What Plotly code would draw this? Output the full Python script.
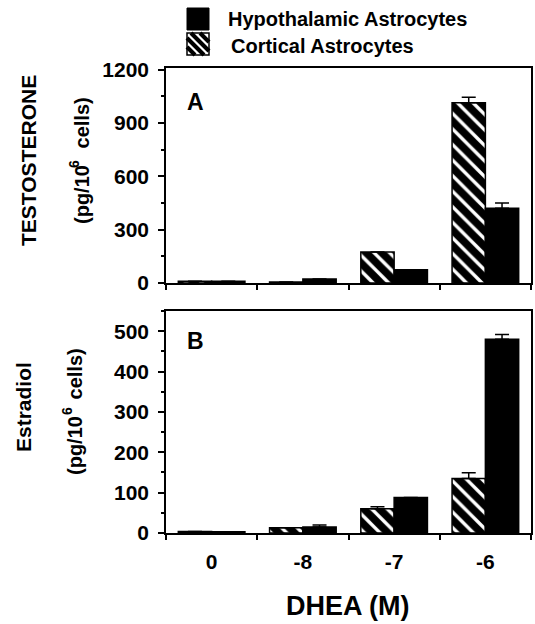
import plotly.graph_objects as go

# ---------------- data ----------------
categories = ["0", "-8", "-7", "-6"]

testo_cortical = [10, 6, 175, 1015]
testo_cortical_err = [0, 0, 0, 30]
testo_hypo = [10, 22, 75, 420]
testo_hypo_err = [0, 0, 0, 30]

estra_cortical = [4, 13, 60, 135]
estra_cortical_err = [0, 0, 5, 14]
estra_hypo = [3, 15, 88, 480]
estra_hypo_err = [0, 5, 0, 12]

testo_ticks = [0, 300, 600, 900, 1200]
estra_ticks = [0, 100, 200, 300, 400, 500]

# ---------------- layout helpers ----------------
W, H = 535, 624
L, R = 166, 531
T, B = 68, 533
PW, PH = R - L, B - T
A_BOTTOM = 283
B_TOP = 311


def px(x):
    return (x - L) / PW


def py(y):
    return (B - y) / PH


FONT = "Liberation Sans, Arial, sans-serif"
black = "black"

fig = go.Figure()


def add_pair(cort, cort_err, hypo, hypo_err, xa, ya):
    fig.add_trace(go.Bar(
        x=categories, y=cort, name="Cortical Astrocytes", xaxis=xa, yaxis=ya,
        marker=dict(color="white", line=dict(color=black, width=1.5),
                    pattern=dict(shape="\\", fgcolor=black, bgcolor="white",
                                 fgopacity=1, size=11, solidity=0.7)),
        error_y=dict(type="data", symmetric=False, array=cort_err,
                     arrayminus=[0] * len(cort_err), color=black,
                     thickness=1.5, width=7),
        showlegend=False,
    ))
    fig.add_trace(go.Bar(
        x=categories, y=hypo, name="Hypothalamic Astrocytes", xaxis=xa, yaxis=ya,
        marker=dict(color=black, line=dict(color=black, width=1.5)),
        error_y=dict(type="data", symmetric=False, array=hypo_err,
                     arrayminus=[0] * len(hypo_err), color=black,
                     thickness=1.5, width=7),
        showlegend=False,
    ))


add_pair(testo_cortical, testo_cortical_err, testo_hypo, testo_hypo_err, "x", "y")
add_pair(estra_cortical, estra_cortical_err, estra_hypo, estra_hypo_err, "x2", "y2")

tickfont = dict(family=FONT, size=21, color=black, weight="bold")

xcommon = dict(type="category", categoryorder="array", categoryarray=categories,
               tickson="boundaries", ticks="outside", ticklen=5, tickwidth=1.5,
               tickcolor=black, showline=True, linecolor=black, linewidth=1.5,
               mirror=True, showgrid=False, zeroline=False, tickfont=tickfont,
               automargin=False)
ycommon = dict(ticks="outside", ticklen=6, tickwidth=1.5, tickcolor=black,
               showline=True, linecolor=black, linewidth=1.5, mirror=True,
               showgrid=False, zeroline=False, tickfont=tickfont, automargin=False,
               ticklabelstandoff=5)

fig.update_layout(
    width=W, height=H,
    margin=dict(l=L, r=W - R, t=T, b=H - B),
    paper_bgcolor="white", plot_bgcolor="white",
    barmode="group", bargap=0.27, bargroupgap=0,
    font=dict(family=FONT, color=black),
    xaxis=dict(**xcommon, domain=[0, 1], anchor="y", showticklabels=False),
    yaxis=dict(**ycommon, domain=[py(A_BOTTOM), 1], anchor="x",
               range=[0, 1210], tickvals=testo_ticks,
               minor=dict(dtick=150, ticks="outside", ticklen=3, tickwidth=1.5, tickcolor=black)),
    xaxis2=dict(**xcommon, domain=[0, 1], anchor="y2", showticklabels=True,
                ticklabelstandoff=9),
    yaxis2=dict(**ycommon, domain=[0, py(B_TOP)], anchor="x2",
                range=[0, 550], tickvals=estra_ticks,
                minor=dict(dtick=50, ticks="outside", ticklen=3, tickwidth=1.5, tickcolor=black)),
    showlegend=False,
)

bold = dict(family=FONT, color=black, weight="bold")
ann = []


def text(x, y, s, size, angle=0, xanchor="center", yanchor="middle"):
    ann.append(dict(x=px(x), y=py(y), xref="paper", yref="paper", text=s,
                    showarrow=False, textangle=angle, xanchor=xanchor,
                    yanchor=yanchor, font=dict(**bold, size=size)))


# y-axis titles
text(28, 161, "TESTOSTERONE", 21, -90)
text(74, 164, "6", 14, -90)
text(82, 161, "(pg/10   cells)", 20, -90)
text(23, 407, "Estradiol", 21, -90)
text(67, 411, "6", 14, -90)
text(75, 412, "(pg/10   cells)", 20, -90)

# panel letters
text(185, 102, "A", 23, xanchor="left")
text(185, 341, "B", 23, xanchor="left")

# x title
text(347, 606, "DHEA (M)", 27)

# legend labels
text(226, 19, "Hypothalamic Astrocytes", 20, xanchor="left")
text(229, 46, "Cortical Astrocytes", 20, xanchor="left")

fig.update_layout(annotations=ann)

# legend swatches
shapes = []
sx0, sy0, s = 187, 8, 22
shapes.append(dict(type="rect", xref="paper", yref="paper",
                   x0=px(sx0), x1=px(sx0 + s), y0=py(sy0), y1=py(sy0 + s),
                   fillcolor=black, line=dict(color=black, width=1)))
hx0, hy0 = 187, 33
for c in [-14, -5, 4, 13]:
    xa = hx0 + max(c, 0)
    ya = hy0 + max(-c, 0)
    xb = hx0 + s - max(-c, 0)
    yb = hy0 + s - max(c, 0)
    shapes.append(dict(type="line", xref="paper", yref="paper",
                       x0=px(xa), y0=py(ya), x1=px(xb), y1=py(yb),
                       line=dict(color=black, width=4)))
shapes.append(dict(type="rect", xref="paper", yref="paper",
                   x0=px(hx0), x1=px(hx0 + s), y0=py(hy0), y1=py(hy0 + s),
                   line=dict(color=black, width=1.5)))
fig.update_layout(shapes=shapes)

fig.write_html("out.html", config={"displayModeBar": False},
               post_script="document.body.style.margin='0';")
